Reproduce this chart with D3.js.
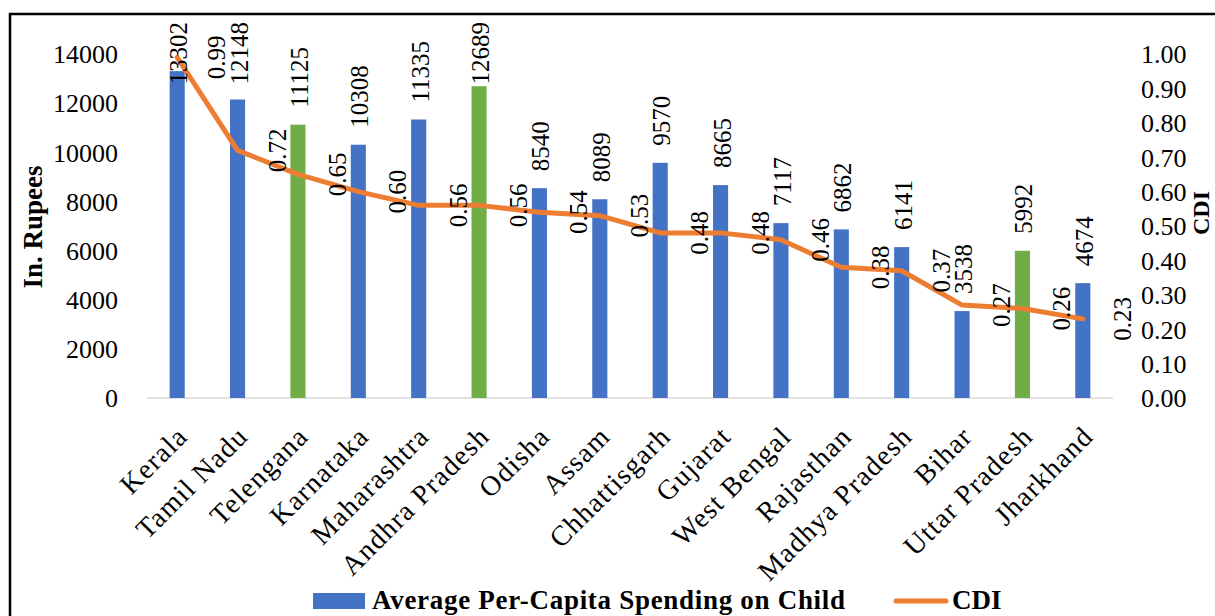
<!DOCTYPE html>
<html>
<head>
<meta charset="utf-8">
<script src="https://cdn.jsdelivr.net/npm/d3@7/dist/d3.min.js"></script>
<style>
  html, body { margin: 0; padding: 0; background: #fff; }
  svg { display: block; }
  text { font-family: "Liberation Serif", "Times New Roman", serif; fill: #000; }
</style>
</head>
<body>
<svg id="chart" width="1215" height="616"></svg>
<script>
// States ranked by Child Development Index
const states = ["Kerala", "Tamil Nadu", "Telengana", "Karnataka", "Maharashtra", "Andhra Pradesh",
  "Odisha", "Assam", "Chhattisgarh", "Gujarat", "West Bengal", "Rajasthan",
  "Madhya Pradesh", "Bihar", "Uttar Pradesh", "Jharkhand"];
// Average per-capita spending on child (Rs.)
const spending = [13302, 12148, 11125, 10308, 11335, 12689, 8540, 8089, 9570, 8665, 7117, 6862, 6141, 3538, 5992, 4674];
// Child Development Index
const cdi = [0.99, 0.72, 0.65, 0.60, 0.56, 0.56, 0.54, 0.53, 0.48, 0.48, 0.46, 0.38, 0.37, 0.27, 0.26, 0.23];
// States whose bars are highlighted
const highlighted = ["Telengana", "Andhra Pradesh", "Uttar Pradesh"];
const leftTicks = [0, 2000, 4000, 6000, 8000, 10000, 12000, 14000];
const rightTicks = [0, 0.1, 0.2, 0.3, 0.4, 0.5, 0.6, 0.7, 0.8, 0.9, 1.0];

const BLUE = "#4472C4", GREEN = "#70AD47", ORANGE = "#ED7D31";

const svg = d3.select("#chart");

// frame
svg.append("rect")
  .attr("x", 10).attr("y", 14).attr("width", 1300).attr("height", 700)
  .attr("fill", "none").attr("stroke", "#000").attr("stroke-width", 2.5);

const plot = { left: 147, right: 1113, top: 54, bottom: 398 };

const x = d3.scaleBand()
  .domain(states)
  .range([plot.left, plot.right])
  .paddingInner(0.75)
  .paddingOuter(0.375);

const yL = d3.scaleLinear().domain([0, 14000]).range([plot.bottom, plot.top]);
const yR = d3.scaleLinear().domain([0, 1]).range([plot.bottom, plot.top]);

const cx = d => x(d) + x.bandwidth() / 2;

// left axis
const leftAxis = d3.axisLeft(yL).tickValues(leftTicks).tickSize(0).tickPadding(0).tickFormat(d3.format("d"));
const gL = svg.append("g").attr("transform", "translate(118,0)").call(leftAxis);
gL.attr("font-family", null);
gL.select(".domain").remove();
gL.selectAll("text").style("font-size", "26px").attr("dy", "0.34em");

// right axis
const rightAxis = d3.axisRight(yR).tickValues(rightTicks).tickSize(0).tickPadding(0).tickFormat(d3.format(".2f"));
const gR = svg.append("g").attr("transform", "translate(1141,0)").call(rightAxis);
gR.attr("font-family", null);
gR.select(".domain").remove();
gR.selectAll("text").style("font-size", "26px").attr("dy", "0.34em");

// axis titles
svg.append("text")
  .attr("transform", "translate(42,227) rotate(-90)")
  .attr("text-anchor", "middle")
  .style("font-size", "27px").style("font-weight", "bold")
  .text("In. Rupees");
svg.append("text")
  .attr("transform", "translate(1209,213) rotate(-90)")
  .attr("text-anchor", "middle")
  .style("font-size", "24px").style("font-weight", "bold")
  .text("CDI");

// category axis baseline
svg.append("line")
  .attr("x1", plot.left).attr("x2", plot.right)
  .attr("y1", plot.bottom).attr("y2", plot.bottom)
  .attr("stroke", "#d9d9d9").attr("stroke-width", 1.5);

// bars
svg.append("g").selectAll("rect")
  .data(states)
  .join("rect")
  .attr("x", d => x(d))
  .attr("width", x.bandwidth())
  .attr("y", (d, i) => yL(spending[i]))
  .attr("height", (d, i) => yL(0) - yL(spending[i]))
  .attr("fill", d => highlighted.includes(d) ? GREEN : BLUE);

// CDI line
const line = d3.line()
  .x((d, i) => cx(states[i]))
  .y(d => yR(d));
svg.append("path")
  .datum(cdi)
  .attr("d", line)
  .attr("fill", "none")
  .attr("stroke", ORANGE)
  .attr("stroke-width", 5)
  .attr("stroke-linejoin", "round")
  .attr("stroke-linecap", "round");

// spending labels, rotated, above bars (kept inside the chart top)
const fmtInt = d3.format("d");
const labelFont = 25;
svg.append("g").selectAll("text")
  .data(states)
  .join("text")
  .style("font-size", labelFont + "px")
  .attr("text-anchor", "start")
  .text((d, i) => fmtInt(spending[i]))
  .attr("transform", function (d, i) {
    const len = this.getComputedTextLength();
    let start = yL(spending[i]) - 17;
    if (start - len < 22) start = 22 + len;
    return `translate(${cx(d) + 10},${start}) rotate(-90)`;
  });

// CDI labels, rotated, to the right of each point
svg.append("g").selectAll("text")
  .data(states)
  .join("text")
  .style("font-size", labelFont + "px")
  .attr("text-anchor", "middle")
  .attr("transform", (d, i) => `translate(${cx(d) + 48},${yR(cdi[i])}) rotate(-90)`)
  .text((d, i) => cdi[i].toFixed(2));

// category labels
svg.append("g").selectAll("text")
  .data(states)
  .join("text")
  .style("font-size", "28px")
  .style("letter-spacing", "1.2px")
  .attr("text-anchor", "end")
  .attr("transform", d => `translate(${cx(d) + 12},438) rotate(-45)`)
  .text(d => d);

// legend
const lg = svg.append("g");
lg.append("rect").attr("x", 313).attr("y", 593).attr("width", 52).attr("height", 16).attr("fill", BLUE);
lg.append("text").attr("x", 372).attr("y", 609)
  .style("font-size", "27px").style("font-weight", "bold").style("letter-spacing", "0.7px")
  .text("Average Per-Capita Spending on Child");
lg.append("line").attr("x1", 896).attr("x2", 946).attr("y1", 601).attr("y2", 601)
  .attr("stroke", ORANGE).attr("stroke-width", 5).attr("stroke-linecap", "round");
lg.append("text").attr("x", 952).attr("y", 609)
  .style("font-size", "27px").style("font-weight", "bold")
  .text("CDI");
</script>
</body>
</html>
